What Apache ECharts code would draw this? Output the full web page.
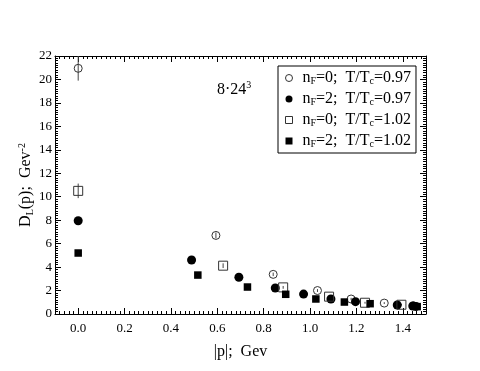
<!DOCTYPE html>
<html>
<head>
<meta charset="utf-8">
<script src="https://cdn.jsdelivr.net/npm/echarts@6/dist/echarts.min.js"></script>
<style>
  html, body { margin: 0; padding: 0; background: #fff; }
  #chart { width: 480px; height: 371px; }
</style>
</head>
<body>
<div id="chart"></div>
<script>
// tick labels
var xTicks = [0, 0.2, 0.4, 0.6, 0.8, 1.0, 1.2, 1.4];

// n_F=0; T/Tc=0.97  (open circles)
var pOpen097 = [0.0, 0.594, 0.841, 1.032, 1.177, 1.320, 1.446];
var dOpen097 = [20.95, 6.70, 3.38, 2.00, 1.28, 0.93, 0.70];
var eOpen097 = [1.05, 0.25, 0.15, 0.12, 0.10, 0.08, 0.06];

// n_F=2; T/Tc=0.97  (filled circles)
var pFill097 = [0.0, 0.489, 0.693, 0.850, 0.972, 1.090, 1.196, 1.376, 1.443, 1.457];
var dFill097 = [7.95, 4.60, 3.13, 2.22, 1.70, 1.28, 1.05, 0.77, 0.68, 0.65];

// n_F=0; T/Tc=1.02  (open squares)
var pOpen102 = [0.0, 0.625, 0.884, 1.082, 1.237, 1.394];
var dOpen102 = [10.50, 4.12, 2.27, 1.48, 0.96, 0.79];
var eOpen102 = [0.62, 0.20, 0.12, 0.10, 0.08, 0.06];

// n_F=2; T/Tc=1.02  (filled squares)
var pFill102 = [0.0, 0.516, 0.730, 0.895, 1.025, 1.148, 1.259, 1.462];
var dFill102 = [5.20, 3.32, 2.30, 1.68, 1.28, 1.02, 0.88, 0.63];

var names = ['a', 'b', 'c', 'd'];
var legendText = {
  a: '{g|n}{sub|F}{n|=0;  T/T}{sub|c}{n|=0.97}',
  b: '{g|n}{sub|F}{n|=2;  T/T}{sub|c}{n|=0.97}',
  c: '{g|n}{sub|F}{n|=0;  T/T}{sub|c}{n|=1.02}',
  d: '{g|n}{sub|F}{n|=2;  T/T}{sub|c}{n|=1.02}'
};

var FONT = 'Liberation Serif';

function pairs(p, d) {
  return p.map(function(x, i) { return [x, d[i]]; });
}
function bars(p, d, e) {
  return p.map(function(x, i) { return [x, d[i] - e[i], d[i] + e[i]]; });
}

// lh: line height of the normal text, sub/sup shift grows with it
function richStyle(size, lh) {
  return {
    n: { fontFamily: FONT, fontSize: size, fontWeight: 'normal', lineHeight: lh, color: '#000' },
    g: { fontFamily: FONT, fontSize: size, fontWeight: 'normal', lineHeight: lh, color: '#000', padding: [0, 0, 0, 5] },
    sub: { fontFamily: FONT, fontSize: 10, fontWeight: 'normal', lineHeight: 8, verticalAlign: 'bottom', color: '#000' },
    sup: { fontFamily: FONT, fontSize: 10, fontWeight: 'normal', lineHeight: 8, verticalAlign: 'top', color: '#000' }
  };
}

var frame = { onZero: false, lineStyle: { color: '#000', width: 1 } };
var tickStyle = { color: '#000', width: 1 };

function errorBar(data) {
  return {
    type: 'custom',
    xAxisIndex: 0,
    yAxisIndex: 0,
    z: 1,
    encode: { x: 0, y: [1, 2] },
    data: data,
    renderItem: function(params, api) {
      var x = api.value(0);
      var a = api.coord([x, api.value(1)]);
      var b = api.coord([x, api.value(2)]);
      return {
        type: 'line',
        shape: { x1: a[0], y1: a[1], x2: b[0], y2: b[1] },
        style: { stroke: '#444', lineWidth: 1 }
      };
    }
  };
}

var gridBox = { left: 55, right: 54, top: 56, bottom: 57 };

var myChart = echarts.init(document.getElementById('chart'));
var option = {
  animation: false,
  backgroundColor: '#fff',
  title: {
    left: 212,
    top: 75,
    text: '{n|8·24}{sup|3}',
    textStyle: { fontWeight: 'normal', rich: richStyle(16, 20) }
  },
  legend: {
    data: names,
    orient: 'vertical',
    left: 278,
    top: 66,
    padding: [4, 5, 4, 7],
    itemGap: 5,
    itemWidth: 7,
    itemHeight: 7,
    borderColor: '#000',
    borderWidth: 1,
    borderRadius: 0,
    backgroundColor: '#fff',
    itemStyle: { borderWidth: 1 },
    formatter: function(name) { return legendText[name]; },
    textStyle: { rich: richStyle(16, 16) }
  },
  grid: [
    Object.assign({}, gridBox),
    Object.assign({}, gridBox)
  ],
  xAxis: [
    {
      // bottom: minor ticks + labels
      type: 'value', gridIndex: 0, position: 'bottom',
      min: -0.1, max: 1.5, interval: 0.02,
      axisLine: frame,
      axisTick: { inside: true, length: 3, lineStyle: tickStyle },
      axisLabel: {
        customValues: xTicks,
        formatter: function(v) { return v.toFixed(1); },
        fontFamily: FONT, fontSize: 13, color: '#000', margin: 8
      },
      splitLine: { show: false },
      name: '{n||p|;  Gev}',
      nameLocation: 'middle',
      nameGap: 30,
      nameTextStyle: { rich: richStyle(16, 16) }
    },
    {
      // top: minor ticks
      type: 'value', gridIndex: 0, position: 'top',
      min: -0.1, max: 1.5, interval: 0.02,
      axisLine: frame,
      axisTick: { inside: true, length: 3, lineStyle: tickStyle },
      axisLabel: { show: false },
      splitLine: { show: false }
    },
    {
      // bottom: major ticks
      type: 'value', gridIndex: 1, position: 'bottom',
      min: -0.1, max: 1.5,
      axisLine: { show: false, onZero: false },
      axisTick: { inside: true, length: 6, customValues: xTicks, lineStyle: tickStyle },
      axisLabel: { show: false },
      splitLine: { show: false }
    },
    {
      // top: major ticks
      type: 'value', gridIndex: 1, position: 'top',
      min: -0.1, max: 1.5,
      axisLine: { show: false, onZero: false },
      axisTick: { inside: true, length: 6, customValues: xTicks, lineStyle: tickStyle },
      axisLabel: { show: false },
      splitLine: { show: false }
    }
  ],
  yAxis: [
    {
      type: 'value', gridIndex: 0, position: 'left',
      min: 0, max: 22, interval: 2,
      axisLine: frame,
      axisTick: { inside: true, length: 6, lineStyle: tickStyle },
      minorTick: { show: true, splitNumber: 10, length: 3, lineStyle: tickStyle },
      axisLabel: { fontFamily: FONT, fontSize: 13, color: '#000', margin: 3 },
      splitLine: { show: false },
      minorSplitLine: { show: false },
      name: '{n|D}{sub|L}{n|(p);  Gev}{sup|-2}',
      nameLocation: 'middle',
      nameGap: 20,
      nameMoveOverlap: false,
      nameTextStyle: { rich: richStyle(16, 18) }
    },
    {
      type: 'value', gridIndex: 0, position: 'right',
      min: 0, max: 22, interval: 2,
      axisLine: frame,
      axisTick: { inside: true, length: 6, lineStyle: tickStyle },
      minorTick: { show: true, splitNumber: 10, length: 3, lineStyle: tickStyle },
      axisLabel: { show: false },
      splitLine: { show: false },
      minorSplitLine: { show: false }
    },
    {
      type: 'value', gridIndex: 1, min: 0, max: 22, show: false
    }
  ],
  series: [
    errorBar(bars(pOpen097, dOpen097, eOpen097)),
    errorBar(bars(pOpen102, dOpen102, eOpen102)),
    {
      name: 'a', type: 'scatter', xAxisIndex: 0, yAxisIndex: 0, z: 3,
      symbol: 'circle', symbolSize: 8,
      itemStyle: { color: 'rgba(255,255,255,0)', borderColor: '#333', borderWidth: 1, opacity: 1 },
      data: pairs(pOpen097, dOpen097)
    },
    {
      name: 'b', type: 'scatter', xAxisIndex: 0, yAxisIndex: 0, z: 3,
      symbol: 'circle', symbolSize: 9,
      itemStyle: { color: '#000', opacity: 1 },
      data: pairs(pFill097, dFill097)
    },
    {
      name: 'c', type: 'scatter', xAxisIndex: 0, yAxisIndex: 0, z: 3,
      symbol: 'rect', symbolSize: 9,
      itemStyle: { color: 'rgba(255,255,255,0)', borderColor: '#333', borderWidth: 1, opacity: 1 },
      data: pairs(pOpen102, dOpen102)
    },
    {
      name: 'd', type: 'scatter', xAxisIndex: 0, yAxisIndex: 0, z: 3,
      symbol: 'rect', symbolSize: 7.5,
      itemStyle: { color: '#000', opacity: 1 },
      data: pairs(pFill102, dFill102)
    }
  ]
};
myChart.setOption(option);
</script>
</body>
</html>
